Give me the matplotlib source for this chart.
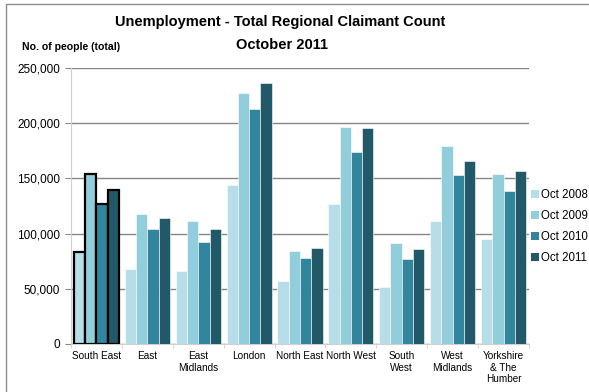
import numpy as np
import matplotlib.pyplot as plt
from matplotlib.ticker import FuncFormatter, MultipleLocator
from matplotlib.patches import Rectangle, Patch

plt.rcParams['font.family'] = ['Liberation Sans', 'DejaVu Sans']

# regional claimant counts
regions = ['South East', 'East', 'East\nMidlands', 'London', 'North East',
           'North West', 'South\nWest', 'West\nMidlands', 'Yorkshire\n& The\nHumber']
oct_2008 = [83600, 67900, 66100, 144000, 57100, 126800, 51600, 111400, 95100]
oct_2009 = [154300, 117800, 111400, 227400, 84200, 196600, 91500, 179300, 154000]
oct_2010 = [126800, 104200, 92400, 212900, 77900, 173900, 77000, 153100, 138600]
oct_2011 = [139800, 114100, 104200, 236400, 87000, 195600, 86100, 165800, 156700]
series_labels = ['Oct 2008', 'Oct 2009', 'Oct 2010', 'Oct 2011']
colors = ['#b7dde8', '#92cddc', '#31859c', '#215968']
highlight = 'South East'

fig = plt.figure(figsize=(5.89, 3.92), dpi=100)
ax = fig.add_axes([71 / 589, 1 - 344 / 392, 458 / 589, 276 / 392])

# outer chart frame
fig.patches.append(Rectangle((6 / 589, -0.1), 1.1, 0.1 + 388 / 392,
                             transform=fig.transFigure, fill=False,
                             edgecolor='#8c8c8c', linewidth=1.0))

x = np.arange(len(regions))
bw = 0.222
series = [oct_2008, oct_2009, oct_2010, oct_2011]
k = regions.index(highlight)
for i, (vals, col) in enumerate(zip(series, colors)):
    offs = (i - 1.5) * bw
    bars = ax.bar(x + offs, vals, bw, color=col,
                  edgecolor='white', linewidth=0.4, zorder=3)
    # outline the highlighted region
    bars[k].set_edgecolor('black')
    bars[k].set_linewidth(1.6)
    bars[k].set_zorder(4)

ax.set_xlim(-0.5, len(regions) - 0.5)
ax.set_ylim(0, 250000)
ax.yaxis.set_major_locator(MultipleLocator(50000))
ax.yaxis.set_major_formatter(FuncFormatter(lambda v, p: f'{int(v):,}'))
ax.grid(axis='y', color='#868686', linewidth=1.0, zorder=0)

ax.set_xticks(x)
ax.set_xticklabels(regions, fontsize=7.2, linespacing=1.2)
ax.set_xticks(np.arange(-0.5, len(regions)), minor=True)
ax.tick_params(axis='x', which='major', length=0, pad=5)
ax.tick_params(axis='x', which='minor', length=3, color='#d0d0d0')
ax.tick_params(axis='y', labelsize=8.5, length=4, color='#868686', pad=4)

for s in ['top', 'right']:
    ax.spines[s].set_visible(False)
ax.spines['left'].set_color('#d0d0d0')
ax.spines['bottom'].set_color('#d0d0d0')

handles = [Patch(facecolor=c, edgecolor='none', label=l)
           for c, l in zip(colors, series_labels)]
ax.legend(handles=handles, loc='center left', bbox_to_anchor=(1.005, 0.424),
          frameon=False, fontsize=8.3, handlelength=0.7, handleheight=0.7,
          handletextpad=0.15, labelspacing=0.78, borderaxespad=0.0,
          borderpad=0.0)

fig.text(0.475, 1 - 22 / 392, 'Unemployment - Total Regional Claimant Count',
         ha='center', va='center', fontsize=10.5, fontweight='bold')
fig.text(0.478, 1 - 45 / 392, 'October 2011',
         ha='center', va='center', fontsize=10.5, fontweight='bold')
fig.text(22 / 589, 1 - 47 / 392, 'No. of people (total)', ha='left', va='center',
         fontsize=7.6, fontweight='bold')

fig.savefig('out.png', dpi=100)
